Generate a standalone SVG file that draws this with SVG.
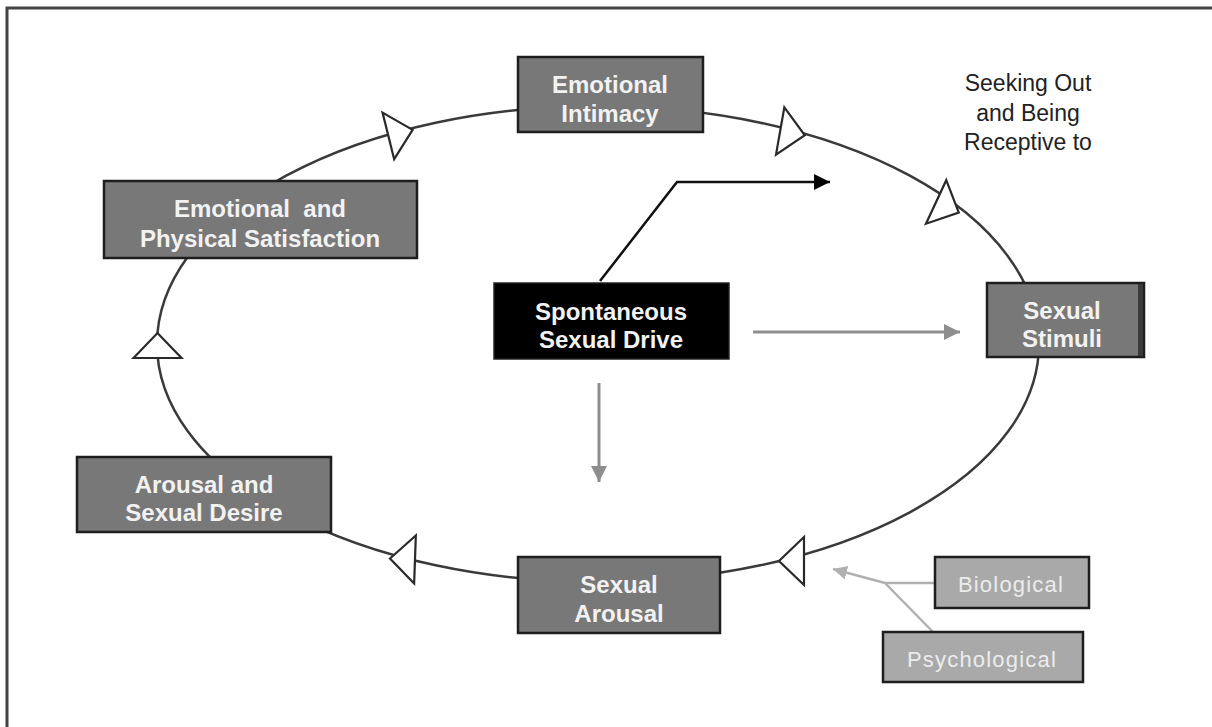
<svg xmlns="http://www.w3.org/2000/svg" width="1212" height="727" viewBox="0 0 1212 727">
<style>
.box{fill:#787878;stroke:#1e1e1e;stroke-width:2.5}
.lbl{font-family:"Liberation Sans",Arial,sans-serif;font-weight:bold;font-size:24px;fill:#f2f2f2;text-anchor:middle}
.sub{fill:#a9a9a9;stroke:#1e1e1e;stroke-width:2.5}
.sublbl{font-family:"Liberation Sans",Arial,sans-serif;font-size:22px;fill:#ececec;text-anchor:middle;letter-spacing:1.2px}
.note{font-family:"Liberation Sans",Arial,sans-serif;font-size:23px;fill:#222;text-anchor:middle}
.tri{fill:#fff;stroke:#2a2a2a;stroke-width:2.2;stroke-linejoin:miter}
.gray{fill:none;stroke:#8e8e8e;stroke-width:3}
</style>
<defs>
<marker id="ah-black" markerUnits="userSpaceOnUse" markerWidth="20" markerHeight="20" refX="16" refY="8" orient="auto"><path d="M0,0 L16,8 L0,16 Z" fill="#000"/></marker>
<marker id="ah-gray" markerUnits="userSpaceOnUse" markerWidth="20" markerHeight="20" refX="16" refY="8" orient="auto"><path d="M0,0 L16,8 L0,16 Z" fill="#8e8e8e"/></marker>
<marker id="ah-lgray" markerUnits="userSpaceOnUse" markerWidth="20" markerHeight="20" refX="14" refY="7" orient="auto"><path d="M0,0 L14,7 L0,14 Z" fill="#b0b0b0"/></marker>
<polygon id="t" points="-12,-24 13,0 -12,24"/>
</defs>
<rect width="1212" height="727" fill="#fff"/>
<path d="M7,727 V8 H1212" fill="none" stroke="#444" stroke-width="3"/>
<g id="connectors">
<ellipse cx="598" cy="344" rx="441" ry="238" fill="none" stroke="#3a3a3a" stroke-width="2.5"/>
<use href="#t" class="tri" transform="translate(400,133) rotate(-14)"/>
<use href="#t" class="tri" transform="translate(792,133) rotate(10)"/>
<use href="#t" class="tri" transform="translate(947,207) rotate(25)"/>
<use href="#t" class="tri" transform="translate(792,561) rotate(180)"/>
<use href="#t" class="tri" transform="translate(403,559) rotate(182)"/>
<use href="#t" class="tri" transform="translate(157.5,346) rotate(-90)"/>
<polyline points="600,281 677,182 830,182" fill="none" stroke="#111" stroke-width="2.5" marker-end="url(#ah-black)"/>
<line x1="753" y1="332" x2="960" y2="332" class="gray" marker-end="url(#ah-gray)"/>
<line x1="599" y1="383" x2="599" y2="482" class="gray" marker-end="url(#ah-gray)"/>
<polyline points="935,583 885,583 833,569" fill="none" stroke="#b0b0b0" stroke-width="2.5" marker-end="url(#ah-lgray)"/>
<line x1="933" y1="632" x2="885" y2="583" stroke="#b0b0b0" stroke-width="2.5"/>
</g>
<g id="emotional-intimacy">
<rect class="box" x="518" y="57" width="185" height="75"/>
<text class="lbl" x="610" y="93">Emotional</text>
<text class="lbl" x="610" y="122">Intimacy</text>
</g>
<g id="emotional-physical">
<rect class="box" x="104" y="181" width="313" height="77"/>
<text class="lbl" x="260" y="217" xml:space="preserve">Emotional  and</text>
<text class="lbl" x="260" y="247">Physical Satisfaction</text>
</g>
<g id="spontaneous">
<rect x="494" y="283" width="235" height="76" fill="#000" stroke="#222" stroke-width="1.5"/>
<text class="lbl" x="611" y="320">Spontaneous</text>
<text class="lbl" x="611" y="348">Sexual Drive</text>
</g>
<g id="sexual-stimuli">
<rect class="box" x="987" y="283" width="157" height="74"/>
<rect x="1138" y="284" width="5" height="72" fill="#3a3a3a"/>
<text class="lbl" x="1062" y="319">Sexual</text>
<text class="lbl" x="1062" y="347">Stimuli</text>
</g>
<g id="arousal-desire">
<rect class="box" x="77" y="457" width="254" height="75"/>
<text class="lbl" x="204" y="493">Arousal and</text>
<text class="lbl" x="204" y="521">Sexual Desire</text>
</g>
<g id="sexual-arousal">
<rect class="box" x="518" y="557" width="202" height="76"/>
<text class="lbl" x="619" y="593">Sexual</text>
<text class="lbl" x="619" y="622">Arousal</text>
</g>
<g id="biological">
<rect class="sub" x="935" y="557" width="154" height="51"/>
<text class="sublbl" x="1011" y="592">Biological</text>
</g>
<g id="psychological">
<rect class="sub" x="883" y="632" width="200" height="50"/>
<text class="sublbl" x="982" y="667">Psychological</text>
</g>
<g id="seeking-note">
<text class="note" x="1028" y="91">Seeking Out</text>
<text class="note" x="1028" y="121">and Being</text>
<text class="note" x="1028" y="150">Receptive to</text>
</g>
</svg>
